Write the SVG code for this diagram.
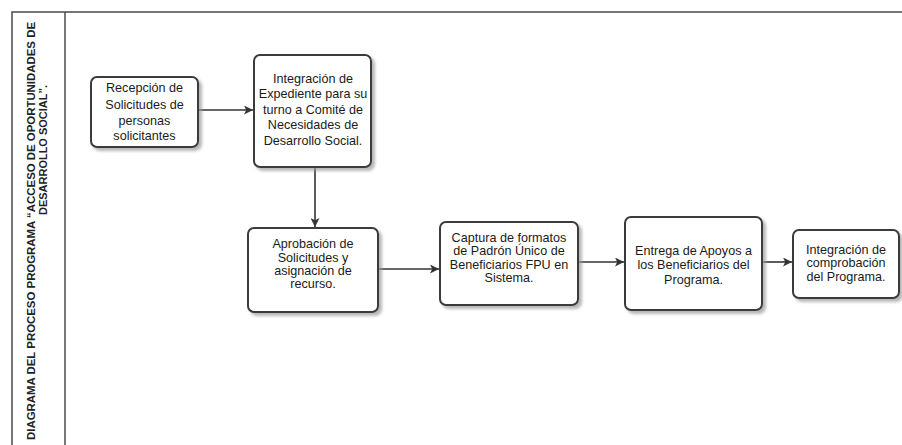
<svg xmlns="http://www.w3.org/2000/svg" width="902" height="445" viewBox="0 0 902 445">
<defs>
<style>
.frame{fill:none;stroke:#4a4a4a;stroke-width:1.5}
.box{fill:#ffffff;stroke:#3a3a3a;stroke-width:2;filter:url(#sh)}
.lbl{font-family:"Liberation Sans",Arial,sans-serif;font-size:12.6px;fill:#1a1a1a;text-anchor:middle}
.ttl{font-family:"Liberation Sans",Arial,sans-serif;font-size:10.5px;font-weight:bold;fill:#222;text-anchor:middle}
.con{fill:none;stroke:#333;stroke-width:1.6;marker-end:url(#arr)}
</style>
<filter id="sh" x="-10%" y="-10%" width="130%" height="130%">
<feDropShadow dx="3" dy="3" stdDeviation="1.5" flood-color="#999" flood-opacity="0.7"/>
</filter>
<marker id="arr" viewBox="0 0 10 10" refX="10" refY="5" markerWidth="9" markerHeight="9" markerUnits="userSpaceOnUse" orient="auto">
<path d="M0,0 L10,5 L0,10 L2.5,5 Z" fill="#333"/>
</marker>
</defs>
<rect width="902" height="445" fill="#ffffff"/>
<g id="frame">
<path class="frame" d="M12,445 L12,12 L902,12"/>
<path class="frame" d="M65,12 L65,445"/>
<text class="ttl" transform="translate(35,231) rotate(-90)" textLength="418" lengthAdjust="spacingAndGlyphs">DIAGRAMA DEL PROCESO PROGRAMA “ACCESO DE OPORTUNIDADES DE</text>
<text class="ttl" transform="translate(47,150) rotate(-90)" textLength="130" lengthAdjust="spacingAndGlyphs">DESARROLLO SOCIAL”.</text>
</g>
<g id="connectors">
<path class="con" d="M198,110 L253,110"/>
<path class="con" d="M315,167 L315,227"/>
<path class="con" d="M378,269 L439,269"/>
<path class="con" d="M578,262 L624,262"/>
<path class="con" d="M762,262 L792,262"/>
</g>
<g id="n1">
<rect class="box" x="91" y="77" width="107" height="70" rx="6"/>
<text class="lbl" x="144.5" y="92">Recepción de</text>
<text class="lbl" x="144.5" y="108.5">Solicitudes de</text>
<text class="lbl" x="144.5" y="125">personas</text>
<text class="lbl" x="144.5" y="140">solicitantes</text>
</g>
<g id="n2">
<rect class="box" x="254" y="55" width="117" height="112" rx="6"/>
<text class="lbl" x="313" y="82.5">Integración de</text>
<text class="lbl" x="313" y="98">Expediente para su</text>
<text class="lbl" x="313" y="113.5">turno a Comité de</text>
<text class="lbl" x="313" y="129">Necesidades de</text>
<text class="lbl" x="313" y="144.5">Desarrollo Social.</text>
</g>
<g id="n3">
<rect class="box" x="248" y="228" width="130" height="84" rx="6"/>
<text class="lbl" x="313" y="247.5">Aprobación de</text>
<text class="lbl" x="313" y="261.5">Solicitudes y</text>
<text class="lbl" x="313" y="274.5">asignación de</text>
<text class="lbl" x="313" y="287.5">recurso.</text>
</g>
<g id="n4">
<rect class="box" x="440" y="222" width="138" height="83" rx="6"/>
<text class="lbl" x="509" y="241.5">Captura de formatos</text>
<text class="lbl" x="509" y="255">de Padrón Único de</text>
<text class="lbl" x="509" y="268.5">Beneficiarios FPU en</text>
<text class="lbl" x="509" y="282">Sistema.</text>
</g>
<g id="n5">
<rect class="box" x="625" y="217" width="137" height="93" rx="6"/>
<text class="lbl" x="693.5" y="254.5">Entrega de Apoyos a</text>
<text class="lbl" x="693.5" y="269">los Beneficiarios del</text>
<text class="lbl" x="693.5" y="283.5">Programa.</text>
</g>
<g id="n6">
<rect class="box" x="793" y="230" width="106" height="68" rx="6"/>
<text class="lbl" x="846" y="253.5">Integración de</text>
<text class="lbl" x="846" y="267">comprobación</text>
<text class="lbl" x="846" y="280.5">del Programa.</text>
</g>
</svg>
